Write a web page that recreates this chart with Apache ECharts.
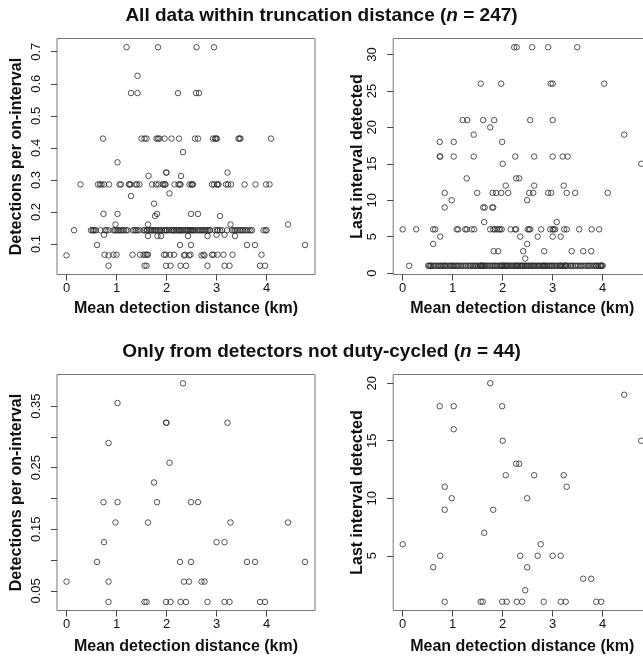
<!DOCTYPE html>
<html><head><meta charset="utf-8">
<script src="https://cdn.jsdelivr.net/npm/echarts@6/dist/echarts.min.js"></script>
<style>html,body{margin:0;padding:0;background:#fff}#c{width:643px;height:662px}</style>
</head><body><div id="c"></div>
<script>
// ---------- DATA ----------
// Top-left: detections per on-interval (all data, n = 247), x values grouped by y level
const allRateLevels = [0.714, 0.625, 0.571, 0.429, 0.387, 0.355, 0.323, 0.3125, 0.286, 0.258, 0.25, 0.226, 0.194, 0.1875, 0.161, 0.143, 0.129, 0.125, 0.097, 0.0667, 0.0645, 0.0323];
const allRateX = [
  [1.20, 1.83, 2.60, 2.95],
  [1.42],
  [1.29, 1.42, 2.23, 2.59, 2.65],
  [0.73, 1.50, 1.56, 1.60, 1.80, 1.83, 1.86, 1.96, 2.10, 2.25, 2.57, 2.63, 2.93, 2.97, 2.99, 3.01, 3.44, 3.46, 3.48, 4.09],
  [2.33],
  [1.02],
  [1.99, 2.00, 3.22],
  [1.64, 2.29],
  [0.28, 0.63, 0.67, 0.70, 0.75, 0.85, 1.06, 1.09, 1.25, 1.26, 1.28, 1.38, 1.41, 1.46, 1.71, 1.79, 1.84, 1.92, 1.94, 1.97, 1.98, 2.16, 2.24, 2.27, 2.28, 2.46, 2.50, 2.51, 2.53, 2.91, 2.95, 3.01, 3.02, 3.04, 3.19, 3.23, 3.29, 3.56, 3.78, 3.99, 4.06],
  [2.06],
  [1.29],
  [1.75],
  [0.74, 1.02, 1.81, 2.49, 2.63],
  [1.77, 3.07],
  [0.98, 1.63, 3.28, 4.43],
  [0.15, 0.49, 0.52, 0.54, 0.56, 0.59, 0.68, 0.77, 0.80, 0.84,
   0.94, 0.97, 1.00, 1.03, 1.06, 1.09, 1.12, 1.15, 1.19, 1.22, 1.33, 1.36, 1.39, 1.42, 1.46,
   1.54, 1.56, 1.60, 1.61, 1.65, 1.68, 1.70, 1.74, 1.77, 1.79, 1.83, 1.86, 1.88, 1.91, 1.95, 1.97, 2.00, 2.01, 2.05, 2.09,
   2.12, 2.14, 2.18, 2.21, 2.24, 2.25, 2.28, 2.32, 2.34, 2.37, 2.40, 2.42, 2.44, 2.47, 2.51, 2.53, 2.55, 2.58, 2.62, 2.64,
   2.67, 2.70, 2.72, 2.75, 2.78, 2.80, 2.83, 2.86, 2.87, 2.29, 2.49, 1.72, 2.15,
   2.97, 3.01, 3.03, 3.07, 3.11, 3.21,
   3.31, 3.34, 3.37, 3.40, 3.44, 3.47, 3.50, 3.53, 3.57, 3.60, 3.64, 3.68, 3.71,
   3.94, 3.98, 4.00],
  [0.75, 3.00, 3.16],
  [1.63, 1.82, 1.89, 2.43, 2.82, 3.37],
  [0.61, 2.27, 2.49, 3.61, 3.77, 4.77],
  [0.76, 0.94, 1.00, 1.32, 1.47, 1.54, 1.58, 1.61, 1.63, 1.95, 1.99, 2.07, 2.15, 2.37, 2.48, 2.74, 2.91, 2.94, 3.02, 3.14, 3.32, 3.90],
  [0.00, 0.84, 2.35, 2.45, 2.70, 2.76],
  [0.84, 1.56, 1.60, 1.99, 2.08, 2.28, 2.39, 2.82, 3.16, 3.26, 3.87, 3.97]
];
// Top-right: last interval detected (all data), x values grouped by y level
const allLastLevels = [31, 26, 21, 20, 19, 18, 16, 15, 13, 12, 11, 10, 9, 7, 6, 5, 4, 3, 2, 1];
const allLastX = [
  [2.23, 2.28, 2.59, 2.91, 3.49],
  [1.56, 1.97, 2.96, 3.00, 4.03],
  [1.20, 1.29, 1.61, 1.83, 2.55, 3.00],
  [1.75],
  [1.42, 4.43],
  [0.74, 1.02, 1.99],
  [0.74, 0.75, 1.02, 1.42, 2.25, 2.63, 3.00, 3.20, 3.30],
  [2.00, 4.77],
  [1.28, 2.27, 2.33],
  [2.06, 2.63, 3.22],
  [0.84, 1.49, 1.80, 1.87, 1.97, 2.11, 2.53, 2.61, 2.91, 2.97, 3.28, 3.45, 4.10],
  [0.98, 2.49],
  [0.84, 1.61, 1.64, 1.79, 1.81],
  [1.63, 3.08],
  [0.00, 0.27, 0.61, 0.65, 1.08, 1.11, 1.25, 1.28, 1.38, 1.43, 1.75, 1.81, 1.84, 1.88, 1.92, 1.95, 1.98, 2.16, 2.25, 2.27, 2.50, 2.53, 2.55, 2.77, 2.95, 3.00, 3.02, 3.05, 3.23, 3.28, 3.53, 3.78, 3.93],
  [0.75, 2.35, 2.70, 3.00, 3.16],
  [0.61, 2.49],
  [1.82, 1.91, 2.41, 2.83, 3.38, 3.61, 3.77],
  [2.45],
  [0.13,
   0.51, 0.53, 0.55, 0.57, 0.60, 0.63, 0.66, 0.70, 0.73, 0.76,
   0.78, 0.81, 0.85, 0.88, 0.92, 0.95, 0.97, 1.00, 1.02, 1.05,
   1.08, 1.10, 1.13, 1.17, 1.20, 1.24, 1.27, 1.31, 1.34, 1.37,
   1.40, 1.43, 1.45, 1.48, 1.51, 1.55, 1.57, 1.59, 1.62, 1.64,
   1.66, 1.69, 1.72, 1.75, 1.78, 1.81, 1.84, 1.86, 1.89, 1.92,
   1.95, 1.97, 1.99, 2.02, 2.04, 2.06, 2.09, 2.11, 2.14, 2.17,
   2.19, 2.22, 2.24, 2.27, 2.29, 2.31, 2.34, 2.36, 2.39, 2.41,
   2.44, 2.46, 2.48, 2.51, 2.53, 2.56, 2.58, 2.61, 2.63, 2.65,
   2.68, 2.71, 2.73, 2.76, 2.79, 2.81, 2.84, 2.86, 2.89, 2.92,
   2.94, 2.97, 2.99, 3.02, 3.05, 3.08, 3.11, 3.14, 3.16, 3.19,
   3.22, 3.25, 3.27, 3.30, 3.34, 3.37, 3.40, 3.44, 3.47, 3.51,
   3.55, 3.58, 3.62, 3.66, 3.70, 3.72, 3.75, 3.79, 3.83, 3.87,
   3.91, 3.94, 3.96, 3.98, 4.00,
   0.84, 1.56, 1.60, 1.99, 2.08, 2.28, 2.39, 2.82, 3.16, 3.26, 3.87, 3.97]
];
// Bottom: detectors not duty-cycled (n = 44)
const ndcX    = [0.00, 0.61, 0.74, 0.75, 0.84, 0.84, 0.84, 0.98, 1.02, 1.02, 1.56, 1.60, 1.63, 1.75, 1.81, 1.99, 2.00, 1.99, 2.08, 2.06, 2.27, 2.28, 2.33, 2.35, 2.39, 2.45, 2.49, 2.49, 2.63, 2.70, 2.76, 2.82, 3.00, 3.16, 3.16, 3.26, 3.22, 3.28, 3.61, 3.77, 3.87, 3.97, 4.43, 4.77];
const ndcRate = [0.065, 0.097, 0.194, 0.129, 0.290, 0.065, 0.032, 0.161, 0.355, 0.194, 0.032, 0.032, 0.161, 0.226, 0.194, 0.323, 0.323, 0.032, 0.032, 0.258, 0.097, 0.032, 0.387, 0.065, 0.032, 0.065, 0.097, 0.194, 0.194, 0.065, 0.065, 0.032, 0.129, 0.129, 0.032, 0.032, 0.323, 0.161, 0.097, 0.097, 0.032, 0.032, 0.161, 0.097];
const ndcLast = [6, 4, 18, 5, 11, 9, 1, 10, 18, 16, 1, 1, 7, 20, 9, 18, 15, 1, 1, 12, 13, 1, 13, 5, 1, 2, 4, 10, 12, 5, 6, 1, 5, 5, 1, 1, 12, 11, 3, 3, 1, 1, 19, 15];
// Tick labels
const xTicks = [0, 1, 2, 3, 4];
const allRateTicks = [0.1, 0.2, 0.3, 0.4, 0.5, 0.6, 0.7];
const allLastTicks = [0, 5, 10, 15, 20, 25, 30];
const ndcRateTicks = [0.05, 0.10, 0.15, 0.20, 0.25, 0.30, 0.35];
const ndcRateLabels = [0.05, 0.15, 0.25, 0.35];
const ndcLastTicks = [5, 10, 15, 20];

// ---------- CHART ----------
const FONT = '"Liberation Sans", Arial, Helvetica, sans-serif';
function levelsToPts(levels, xs) {
  const out = [];
  levels.forEach((y, i) => xs[i].forEach(x => out.push([x, y])));
  return out;
}
function zip(xs, ys) { return xs.map((x, i) => [x, ys[i]]); }

function xAx(gi, gap) {
  return {
    type: 'value', gridIndex: gi, min: -0.19, max: 4.97,
    axisLine: { show: false, onZero: false },
    splitLine: { show: false },
    axisTick: { show: true, length: 6, customValues: xTicks, lineStyle: { color: '#444', width: 1 } },
    axisLabel: { customValues: xTicks, margin: 7, fontSize: 13, color: '#111', fontFamily: FONT },
    name: 'Mean detection distance (km)', nameLocation: 'middle', nameGap: gap,
    nameTextStyle: { fontSize: 16, fontWeight: 'bold', color: '#111', fontFamily: FONT }
  };
}
function yAx(gi, min, max, ticks, labels, fmt, name, gap) {
  return {
    type: 'value', gridIndex: gi, min: min, max: max,
    axisLine: { show: false, onZero: false },
    splitLine: { show: false },
    axisTick: { show: true, length: 6, customValues: ticks, lineStyle: { color: '#444', width: 1 } },
    axisLabel: { customValues: labels, rotate: 90, margin: 14, fontSize: 13, color: '#111', fontFamily: FONT, formatter: fmt },
    name: name, nameLocation: 'middle', nameGap: gap, nameRotate: 90,
    nameTextStyle: { fontSize: 16, fontWeight: 'bold', color: '#111', fontFamily: FONT }
  };
}
function sc(xi, data) {
  return {
    type: 'scatter', xAxisIndex: xi, yAxisIndex: xi, data: data,
    symbol: 'circle', symbolSize: 5.5, silent: true,
    itemStyle: { color: 'rgba(0,0,0,0)', borderColor: '#2a2a2a', borderWidth: 1 },
    emphasis: { disabled: true }
  };
}
const gridBase = { show: true, borderColor: '#777', borderWidth: 1, backgroundColor: 'transparent', outerBoundsMode: 'none', containLabel: false };
const titleRich = {
  a: { fontSize: 19, fontWeight: 'bold', color: '#111', fontFamily: FONT },
  b: { fontSize: 19, fontWeight: 'bold', fontStyle: 'italic', color: '#111', fontFamily: FONT }
};
const chart = echarts.init(document.getElementById('c'), null, { renderer: 'canvas' });
chart.setOption({
  animation: false,
  backgroundColor: '#fff',
  title: [
    { text: '{a|All data within truncation distance (}{b|n}{a| = 247)}', left: 'center', top: 1, textStyle: { rich: titleRich } },
    { text: '{a|Only from detectors not duty-cycled (}{b|n}{a| = 44)}', left: 'center', top: 337, textStyle: { rich: titleRich } }
  ],
  grid: [
    Object.assign({ left: 57, top: 38.5, width: 258, height: 236 }, gridBase),
    Object.assign({ left: 393.2, top: 38.5, width: 258, height: 236 }, gridBase),
    Object.assign({ left: 57, top: 374.5, width: 258, height: 236 }, gridBase),
    Object.assign({ left: 393.2, top: 374.5, width: 258, height: 236 }, gridBase)
  ],
  xAxis: [xAx(0, 26), xAx(1, 26), xAx(2, 28), xAx(3, 28)],
  yAxis: [
    yAx(0, 0.005, 0.7413, allRateTicks, allRateTicks, v => v.toFixed(1), 'Detections per on-interval', 32),
    yAx(1, -0.2, 32.2, allLastTicks, allLastTicks, v => String(v), 'Last interval detected', 28),
    yAx(2, 0.0181, 0.4013, ndcRateTicks, ndcRateLabels, v => v.toFixed(2), 'Detections per on-interval', 32),
    yAx(3, 0.24, 20.76, ndcLastTicks, ndcLastTicks, v => String(v), 'Last interval detected', 28)
  ],
  series: [
    sc(0, levelsToPts(allRateLevels, allRateX)),
    sc(1, levelsToPts(allLastLevels, allLastX)),
    sc(2, zip(ndcX, ndcRate)),
    sc(3, zip(ndcX, ndcLast))
  ]
});
</script>
</body></html>
